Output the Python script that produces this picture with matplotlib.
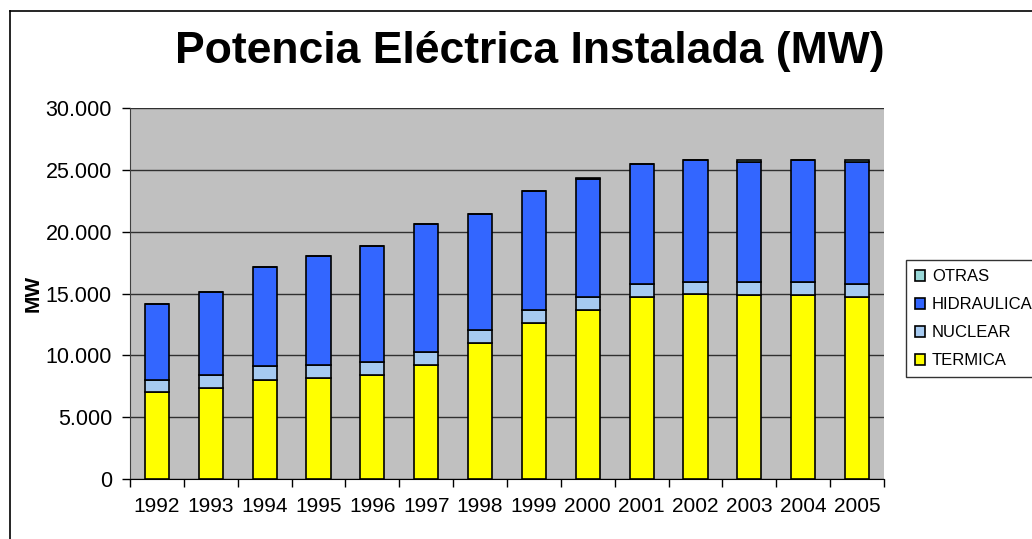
import numpy as np
import matplotlib.pyplot as plt
from matplotlib.lines import Line2D
from matplotlib.ticker import FuncFormatter, FixedLocator

plt.rcParams['font.family'] = ['Liberation Sans', 'DejaVu Sans']

# datos (MW)
years = ['1992', '1993', '1994', '1995', '1996', '1997', '1998',
         '1999', '2000', '2001', '2002', '2003', '2004', '2005']
termica = [7070, 7340, 8020, 8150, 8400, 9190, 11000,
           12580, 13660, 14720, 14980, 14850, 14850, 14720]
nuclear = [920, 1090, 1080, 1060, 1090, 1080, 1030,
           1080, 1080, 1080, 980, 1080, 1080, 1080]
hidraulica = [6180, 6690, 8030, 8860, 9370, 10350, 9410,
              9650, 9490, 9650, 9870, 9740, 9900, 9870]
otras = [0, 0, 0, 0, 0, 0, 0, 0, 140, 0, 0, 160, 0, 160]

colores = {'TERMICA': '#FFFF00', 'NUCLEAR': '#A6CAF0',
           'HIDRAULICA': '#3366FF', 'OTRAS': '#99D8D8'}

fig = plt.figure(figsize=(10.32, 5.39), dpi=100)
ax = fig.add_axes([130 / 1032, 1 - 479 / 539, 754 / 1032, 371 / 539])

x = np.arange(len(years))
w = 0.45
base = np.zeros(len(years))
series = [('TERMICA', termica), ('NUCLEAR', nuclear),
          ('HIDRAULICA', hidraulica), ('OTRAS', otras)]
handles = {}
for name, vals in series:
    vals = np.array(vals, dtype=float)
    b = ax.bar(x, vals, w, bottom=base, color=colores[name],
               edgecolor='black', linewidth=1.2, zorder=3)
    handles[name] = b
    base += vals

ax.set_facecolor('#C0C0C0')
ax.set_xlim(-0.5, len(years) - 0.5)
ax.set_ylim(0, 30000)
ax.set_yticks(np.arange(0, 30001, 5000))
ax.yaxis.set_major_formatter(FuncFormatter(lambda v, p: f'{int(v):,}'.replace(',', '.')))
ax.grid(axis='y', color='#303030', linewidth=1, zorder=1)

ax.set_xticks(x)
ax.set_xticklabels(years)
ax.xaxis.set_minor_locator(FixedLocator(np.arange(-0.5, len(years), 1)))
ax.tick_params(axis='x', which='major', length=0, pad=13, labelsize=15)
ax.tick_params(axis='x', which='minor', length=6, width=1, direction='out')
ax.tick_params(axis='y', length=6, width=1, pad=7, labelsize=15.5)

for s in ['top', 'right']:
    ax.spines[s].set_visible(False)
ax.spines['left'].set_color('#404040')
ax.spines['bottom'].set_color('black')

ax.set_ylabel('MW', fontsize=15, fontweight='bold', labelpad=2)

fig.text(530 / 1032, 1 - 52 / 539, 'Potencia Eléctrica Instalada (MW)',
         ha='center', va='center', fontsize=32, fontweight='bold')

orden = ['OTRAS', 'HIDRAULICA', 'NUCLEAR', 'TERMICA']
leg = fig.legend([handles[n] for n in orden], orden,
                 loc='upper left', bbox_to_anchor=(906 / 1032, 1 - 260 / 539),
                 fontsize=12, frameon=True, fancybox=False,
                 handlelength=0.6, handleheight=0.6, handletextpad=0.4,
                 labelspacing=0.78, borderpad=0.55, borderaxespad=0)
leg.get_frame().set_edgecolor('black')
leg.get_frame().set_linewidth(1)

# marco exterior del grafico
fig.add_artist(Line2D([10 / 1032, 10 / 1032], [0, 1 - 11 / 539],
                      transform=fig.transFigure, color='black', linewidth=1.2))
fig.add_artist(Line2D([10 / 1032, 1], [1 - 11 / 539, 1 - 11 / 539],
                      transform=fig.transFigure, color='black', linewidth=1.2))

fig.savefig('out.png', dpi=100)
